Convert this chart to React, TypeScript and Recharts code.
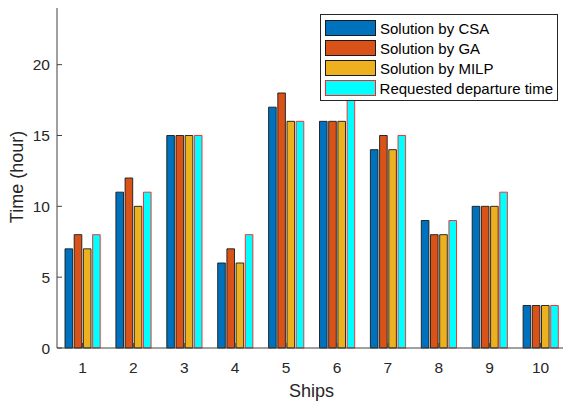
import { BarChart, Bar, XAxis, YAxis, Legend } from 'recharts';

// Departure times per ship
const ships = ['1', '2', '3', '4', '5', '6', '7', '8', '9', '10'];
const csa = [7, 11, 15, 6, 17, 16, 14, 9, 10, 3];
const ga = [8, 12, 15, 7, 18, 16, 15, 8, 10, 3];
const milp = [7, 10, 15, 6, 16, 16, 14, 8, 10, 3];
const requested = [8, 11, 15, 8, 16, 18, 15, 9, 11, 3];
const yTicks = [0, 5, 10, 15, 20];

const series = [
  { key: 'csa', name: 'Solution by CSA', fill: '#0072BD', stroke: '#1a1a1a' },
  { key: 'ga', name: 'Solution by GA', fill: '#D95319', stroke: '#1a1a1a' },
  { key: 'milp', name: 'Solution by MILP', fill: '#EDB120', stroke: '#1a1a1a' },
  { key: 'requested', name: 'Requested departure time', fill: '#00FFFF', stroke: '#FF2020' },
];

const data = ships.map((s, i) => ({
  ship: s,
  csa: csa[i],
  ga: ga[i],
  milp: milp[i],
  requested: requested[i],
}));

const FONT = '"Liberation Sans", Arial, Helvetica, sans-serif';
const AXIS = '#404040';
const TEXT = '#262626';

const LegendBox = () => (
  <div
    style={{
      border: '1px solid #262626',
      background: '#fff',
      padding: '3px 4px 2px 4px',
      fontFamily: FONT,
      fontSize: 15,
      color: '#000',
      boxSizing: 'border-box',
      width: 238,
    }}
  >
    {series.map((s) => (
      <div key={s.key} style={{ display: 'flex', alignItems: 'center', height: 20 }}>
        <span
          style={{
            display: 'inline-block',
            width: 49,
            height: 14,
            background: s.fill,
            border: `1px solid ${s.stroke}`,
            marginRight: 4,
          }}
        />
        <span style={{ whiteSpace: 'nowrap' }}>{s.name}</span>
      </div>
    ))}
  </div>
);

export default function App() {
  return (
    <div
      style={{
        position: 'absolute',
        left: 0,
        top: 0,
        width: 563,
        height: 403,
        overflow: 'hidden',
        background: '#fff',
      }}
    >
      <BarChart
        width={580}
        height={403}
        data={data}
        margin={{ top: 8, right: 14, bottom: 0, left: 0 }}
        barSize={7.6}
        barGap={1.6}
        style={{ fontFamily: FONT }}
      >
        <XAxis
          dataKey="ship"
          height={55}
          stroke={AXIS}
          tickSize={-5}
          tickMargin={19}
          tick={{ fill: TEXT, fontSize: 15.5 }}
          label={(props: any) => {
            const vb = props.viewBox;
            return (
              <text x={vb.x + vb.width / 2} y={397} textAnchor="middle" fill={TEXT} fontSize={18}>
                Ships
              </text>
            );
          }}
        />
        <XAxis
          xAxisId="top"
          dataKey="ship"
          orientation="top"
          height={0}
          stroke={AXIS}
          tickSize={-5}
          tick={false}
        />
        <YAxis
          domain={[0, 24]}
          ticks={yTicks}
          width={57}
          stroke={AXIS}
          tickSize={-5}
          tickMargin={12}
          tick={{ fill: TEXT, fontSize: 15.5 }}
          label={() => (
            <text
              x={23}
              y={177}
              textAnchor="middle"
              fill={TEXT}
              fontSize={18}
              transform="rotate(-90 23 177)"
            >
              Time (hour)
            </text>
          )}
        />
        <YAxis
          yAxisId="right"
          orientation="right"
          domain={[0, 24]}
          ticks={yTicks}
          width={0}
          stroke={AXIS}
          tickSize={-5}
          tick={false}
        />
        {series.map((s) => (
          <Bar
            key={s.key}
            dataKey={s.key}
            name={s.name}
            fill={s.fill}
            stroke={s.stroke}
            strokeWidth={0.9}
            isAnimationActive={false}
          />
        ))}
        <Legend
          layout="horizontal"
          verticalAlign="middle"
          align="center"
          content={() => <LegendBox />}
          wrapperStyle={{ left: 320, top: 14, width: 238 }}
        />
      </BarChart>
    </div>
  );
}
